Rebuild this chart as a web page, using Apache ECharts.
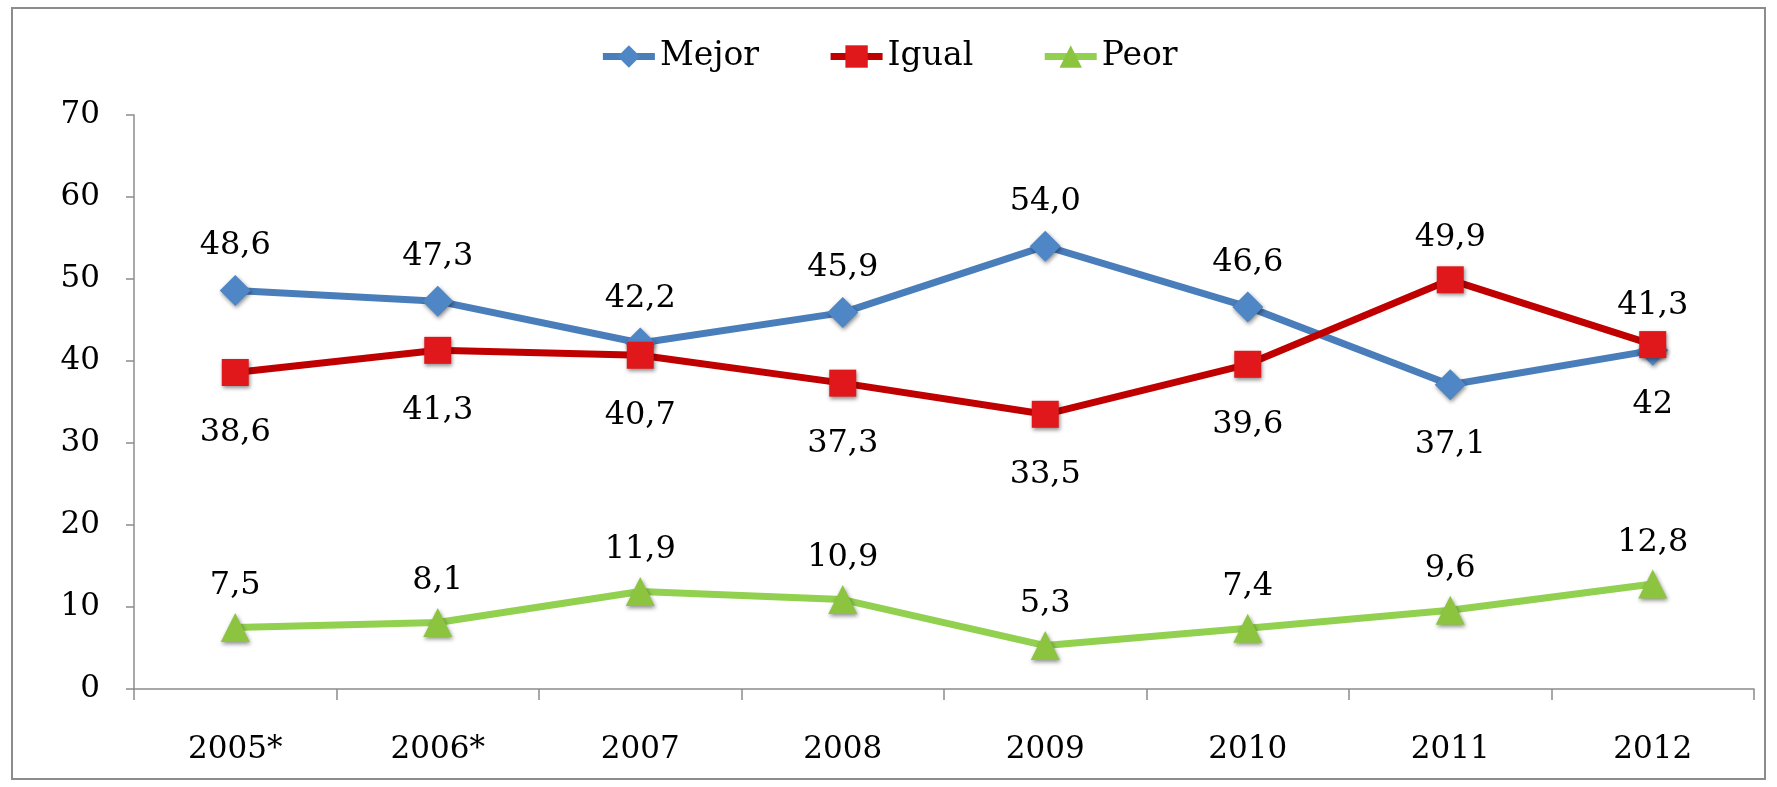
<!DOCTYPE html>
<html>
<head>
<meta charset="utf-8">
<script src="https://cdn.jsdelivr.net/npm/echarts@6/dist/echarts.min.js"></script>
<style>
  html, body { margin: 0; padding: 0; background: #fff; }
  #frame { position: absolute; left: 11px; top: 7px; width: 1755px; height: 773px; border: 2px solid #8c8c8c; box-sizing: border-box; }
  #chart { width: 1777px; height: 787px; }
</style>
</head>
<body>
<div id="frame"></div>
<div id="chart"></div>
<script>
const years = ['2005*', '2006*', '2007', '2008', '2009', '2010', '2011', '2012']
const mejor = [48.6, 47.3, 42.2, 45.9, 54.0, 46.6, 37.1, 41.3]
const igual = [38.6, 41.3, 40.7, 37.3, 33.5, 39.6, 49.9, 42]
const peor = [7.5, 8.1, 11.9, 10.9, 5.3, 7.4, 9.6, 12.8]
const yTicks = [0, 10, 20, 30, 40, 50, 60, 70]

// years where the Mejor / Igual labels trade sides
const swapYears = ['2011']

const font = 'DejaVu Serif'

const fmt = (fixed) => (p) => {
  const s = fixed ? p.value.toFixed(1) : String(p.value)
  return s.replace('.', ',')
}

const makeSeries = (name, data, color, markColor, symbol, size, pos, dist, fixed, swapPos, swapDist) => ({
  name: name,
  type: 'line',
  data: data.map((v, i) => swapYears.indexOf(years[i]) >= 0
    ? { value: v, label: { position: swapPos, distance: swapDist } }
    : v),
  symbol: symbol,
  symbolSize: size,
  lineStyle: { color: color, width: 7 },
  itemStyle: {
    color: markColor,
    shadowBlur: 4,
    shadowOffsetX: 1,
    shadowOffsetY: 2,
    shadowColor: 'rgba(0,0,0,0.45)'
  },
  label: {
    show: true,
    position: pos,
    distance: dist,
    formatter: fmt(fixed),
    color: '#000',
    fontFamily: font,
    fontSize: 32
  },
  emphasis: { disabled: true }
})

var chart = echarts.init(document.getElementById('chart'))
chart.setOption({
  animation: false,
  legend: {
    top: 35,
    left: 'center',
    itemWidth: 52,
    itemHeight: 28,
    itemGap: 68,
    lineStyle: { width: 7 },
    textStyle: { fontFamily: font, fontSize: 33, color: '#000' },
    data: ['Mejor', 'Igual', 'Peor']
  },
  grid: { left: 134, right: 23, top: 115, bottom: 98 },
  xAxis: {
    type: 'category',
    data: years,
    boundaryGap: true,
    axisLine: { lineStyle: { color: '#8c8c8c', width: 1.5 } },
    axisTick: { show: true, length: 11, interval: 0, lineStyle: { color: '#8c8c8c', width: 1.5 } },
    axisLabel: { margin: 45, fontFamily: font, fontSize: 31, color: '#000', interval: 0 },
    splitLine: { show: false }
  },
  yAxis: {
    type: 'value',
    min: yTicks[0],
    max: yTicks[yTicks.length - 1],
    interval: 10,
    axisLine: { show: true, lineStyle: { color: '#8c8c8c', width: 1.5 } },
    axisTick: { show: true, length: 8, lineStyle: { color: '#8c8c8c', width: 1.5 } },
    axisLabel: { margin: 34, fontFamily: font, fontSize: 31, color: '#000' },
    splitLine: { show: false }
  },
  series: [
    makeSeries('Mejor', mejor, '#4a7ebb', '#4f86c6', 'diamond', 31, 'top', 13, true, 'bottom', 28),
    makeSeries('Igual', igual, '#c00000', '#e0181b', 'rect', 27, 'bottom', 31, false, 'top', 13),
    makeSeries('Peor', peor, '#92d050', '#8cc440', 'triangle', 29, 'top', 11, true)
  ]
})
</script>
</body>
</html>
